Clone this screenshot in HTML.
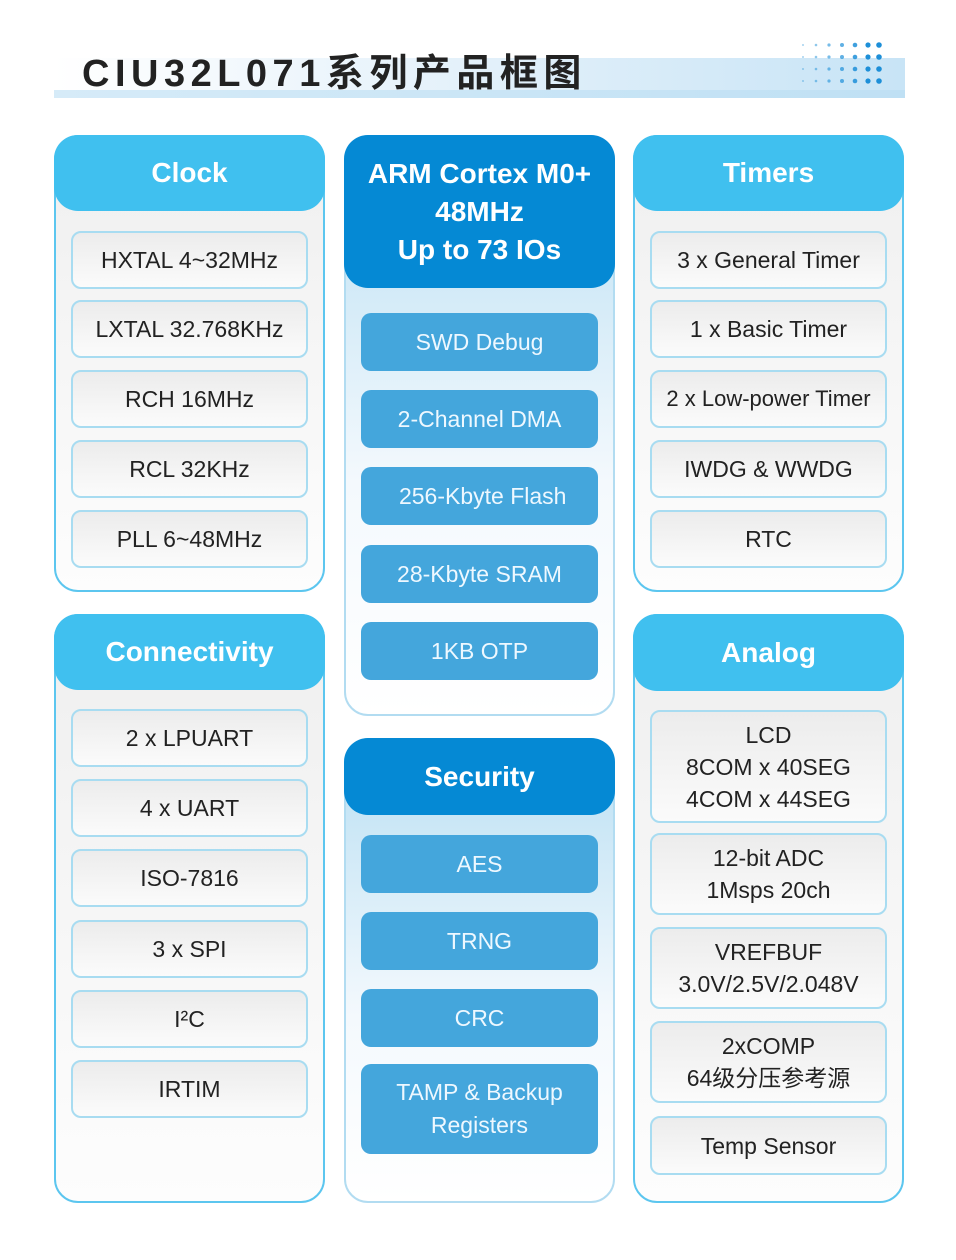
<!DOCTYPE html>
<html><head><meta charset="utf-8"><style>
*{margin:0;padding:0;box-sizing:border-box}
body{width:956px;height:1260px;background:#fff;position:relative;font-family:"Liberation Sans","Noto Sans CJK SC",sans-serif;overflow:hidden}
.a{position:absolute}
.band{left:54px;top:58px;width:851px;height:40px;background:linear-gradient(90deg,#fff 0%,#e8f3fb 40%,#c8e4f6 100%)}
.band2{left:54px;top:90px;width:851px;height:8px;background:linear-gradient(90deg,#d6ebf8,#bfe0f4)}
.title{left:82px;top:42px;font-size:38px;font-weight:bold;color:#222;letter-spacing:5.5px;font-family:"Liberation Sans","Noto Sans CJK SC",sans-serif}
.panel{border:2px solid #5cc6ef;border-radius:24px;background:linear-gradient(180deg,#efefef 0%,#fdfdfd 100%)}
.cpanel{border:2px solid #b2dcf1;border-radius:24px;background:linear-gradient(180deg,#b9dff3 0%,#f4f9fd 60%,#fff 100%)}
.hd{border-radius:24px;background:#40c0ef;color:#fff;font-weight:bold;font-size:28px;display:flex;align-items:center;justify-content:center;text-align:center}
.dk{background:#0589d4}
.it{border:2px solid #a8dcf1;border-radius:10px;background:linear-gradient(180deg,#ececec,#fbfbfb);color:#222;font-size:23px;display:flex;align-items:center;justify-content:center;text-align:center;line-height:32px}
.bt{border-radius:10px;background:#44a6dc;color:#eef8ff;font-size:23px;display:flex;align-items:center;justify-content:center;text-align:center;line-height:33px}
</style></head><body>
<div class="a band"></div><div class="a band2"></div>
<div class="a title">CIU32L071系列产品框图</div>
<svg class="a" style="left:798px;top:40px" width="90" height="50">
<g fill="#1d8fd8">
<circle cx="5" cy="5" r="1" opacity=".4"/><circle cx="18" cy="5" r="1.3" opacity=".5"/><circle cx="31" cy="5" r="1.6" opacity=".6"/><circle cx="44" cy="5" r="2" opacity=".7"/><circle cx="57" cy="5" r="2.3" opacity=".85"/><circle cx="70" cy="5" r="2.6"/><circle cx="81" cy="5" r="2.8"/>
<circle cx="5" cy="17" r="1" opacity=".4"/><circle cx="18" cy="17" r="1.3" opacity=".5"/><circle cx="31" cy="17" r="1.6" opacity=".6"/><circle cx="44" cy="17" r="2" opacity=".7"/><circle cx="57" cy="17" r="2.3" opacity=".85"/><circle cx="70" cy="17" r="2.6"/><circle cx="81" cy="17" r="2.8"/>
<circle cx="5" cy="29" r="1" opacity=".4"/><circle cx="18" cy="29" r="1.3" opacity=".5"/><circle cx="31" cy="29" r="1.6" opacity=".6"/><circle cx="44" cy="29" r="2" opacity=".7"/><circle cx="57" cy="29" r="2.3" opacity=".85"/><circle cx="70" cy="29" r="2.6"/><circle cx="81" cy="29" r="2.8"/>
<circle cx="5" cy="41" r="1" opacity=".4"/><circle cx="18" cy="41" r="1.3" opacity=".5"/><circle cx="31" cy="41" r="1.6" opacity=".6"/><circle cx="44" cy="41" r="2" opacity=".7"/><circle cx="57" cy="41" r="2.3" opacity=".85"/><circle cx="70" cy="41" r="2.6"/><circle cx="81" cy="41" r="2.8"/>
</g></svg>

<!-- Clock -->
<div class="a panel" style="left:54px;top:135px;width:271px;height:457px"></div>
<div class="a hd" style="left:54px;top:135px;width:271px;height:76px">Clock</div>
<div class="a it" style="left:71px;top:231px;width:237px;height:58px">HXTAL 4~32MHz</div>
<div class="a it" style="left:71px;top:300px;width:237px;height:58px">LXTAL 32.768KHz</div>
<div class="a it" style="left:71px;top:370px;width:237px;height:58px">RCH 16MHz</div>
<div class="a it" style="left:71px;top:440px;width:237px;height:58px">RCL 32KHz</div>
<div class="a it" style="left:71px;top:510px;width:237px;height:58px">PLL 6~48MHz</div>

<!-- Connectivity -->
<div class="a panel" style="left:54px;top:614px;width:271px;height:589px"></div>
<div class="a hd" style="left:54px;top:614px;width:271px;height:76px">Connectivity</div>
<div class="a it" style="left:71px;top:709px;width:237px;height:58px">2 x LPUART</div>
<div class="a it" style="left:71px;top:779px;width:237px;height:58px">4 x UART</div>
<div class="a it" style="left:71px;top:849px;width:237px;height:58px">ISO-7816</div>
<div class="a it" style="left:71px;top:920px;width:237px;height:58px">3 x SPI</div>
<div class="a it" style="left:71px;top:990px;width:237px;height:58px">I²C</div>
<div class="a it" style="left:71px;top:1060px;width:237px;height:58px">IRTIM</div>

<!-- Center -->
<div class="a cpanel" style="left:344px;top:135px;width:271px;height:581px"></div>
<div class="a hd dk" style="left:344px;top:135px;width:271px;height:153px;line-height:38px">ARM Cortex M0+<br>48MHz<br>Up to 73 IOs</div>
<div class="a bt" style="left:361px;top:313px;width:237px;height:58px">SWD Debug</div>
<div class="a bt" style="left:361px;top:390px;width:237px;height:58px">2-Channel DMA</div>
<div class="a bt" style="left:361px;top:467px;width:237px;height:58px">&nbsp;256-Kbyte Flash</div>
<div class="a bt" style="left:361px;top:545px;width:237px;height:58px">28-Kbyte SRAM</div>
<div class="a bt" style="left:361px;top:622px;width:237px;height:58px">1KB OTP</div>

<div class="a cpanel" style="left:344px;top:738px;width:271px;height:465px"></div>
<div class="a hd dk" style="left:344px;top:738px;width:271px;height:77px">Security</div>
<div class="a bt" style="left:361px;top:835px;width:237px;height:58px">AES</div>
<div class="a bt" style="left:361px;top:912px;width:237px;height:58px">TRNG</div>
<div class="a bt" style="left:361px;top:989px;width:237px;height:58px">CRC</div>
<div class="a bt" style="left:361px;top:1064px;width:237px;height:90px">TAMP &amp; Backup<br>Registers</div>

<!-- Timers -->
<div class="a panel" style="left:633px;top:135px;width:271px;height:457px"></div>
<div class="a hd" style="left:633px;top:135px;width:271px;height:76px">Timers</div>
<div class="a it" style="left:650px;top:231px;width:237px;height:58px">3 x General Timer</div>
<div class="a it" style="left:650px;top:300px;width:237px;height:58px">1 x Basic Timer</div>
<div class="a it" style="left:650px;top:370px;width:237px;height:58px;font-size:22px">2 x Low-power Timer</div>
<div class="a it" style="left:650px;top:440px;width:237px;height:58px">IWDG &amp; WWDG</div>
<div class="a it" style="left:650px;top:510px;width:237px;height:58px">RTC</div>

<!-- Analog -->
<div class="a panel" style="left:633px;top:614px;width:271px;height:589px"></div>
<div class="a hd" style="left:633px;top:614px;width:271px;height:77px">Analog</div>
<div class="a it" style="left:650px;top:710px;width:237px;height:113px">LCD<br>8COM x 40SEG<br>4COM x 44SEG</div>
<div class="a it" style="left:650px;top:833px;width:237px;height:82px">12-bit ADC<br>1Msps 20ch</div>
<div class="a it" style="left:650px;top:927px;width:237px;height:82px">VREFBUF<br>3.0V/2.5V/2.048V</div>
<div class="a it" style="left:650px;top:1021px;width:237px;height:82px">2xCOMP<br>64级分压参考源</div>
<div class="a it" style="left:650px;top:1116px;width:237px;height:59px">Temp Sensor</div>
</body></html>
